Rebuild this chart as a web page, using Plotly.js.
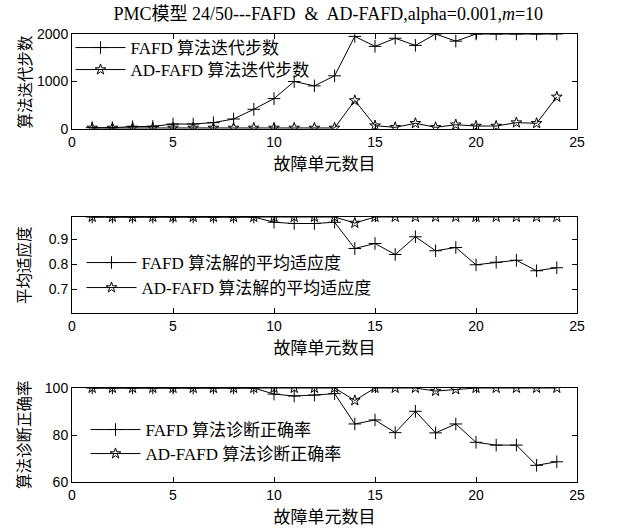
<!DOCTYPE html>
<html><head><meta charset="utf-8">
<script src="https://cdn.plot.ly/plotly-3.0.1.min.js"></script>
<style>html,body{margin:0;padding:0;background:#fff}</style>
</head><body><div id="chart" style="width:624px;height:529px"></div>
<script>
const faultUnits = [1,2,3,4,5,6,7,8,9,10,11,12,13,14,15,16,17,18,19,20,21,22,23,24];
const fafdIter = [28,28,50,55,105,105,134,211,415,640,1000,908,1120,1950,1740,1910,1760,2000,1850,2000,2000,2000,2000,2000];
const adIter = [22,22,22,22,22,22,22,22,22,22,22,22,22,600,70,35,120,35,90,63,63,134,120,676];
const fafdFit = [0.99,0.99,0.99,0.99,0.99,0.99,0.99,0.99,0.99,0.969,0.964,0.964,0.969,0.864,0.884,0.84,0.911,0.855,0.868,0.799,0.809,0.817,0.775,0.787];
const adFit = [0.99,0.99,0.99,0.99,0.99,0.99,0.99,0.99,0.99,0.99,0.99,0.99,0.99,0.966,0.99,0.99,0.99,0.99,0.99,0.99,0.99,0.99,0.99,0.99];
const fafdAcc = [100,100,100,100,100,100,100,100,100,97.4,96.6,97,97.6,84.7,86.4,81,90.1,80.9,84.7,76.9,75.7,75.7,67.1,68.6];
const adAcc = [100,100,100,100,100,100,100,100,100,100,100,100,100,94.7,100,100,100,98.7,99.4,100,100,100,100,100];

const legendNames = [
  ['FAFD 算法迭代步数', 'AD-FAFD 算法迭代步数'],
  ['FAFD 算法解的平均适应度', 'AD-FAFD 算法解的平均适应度'],
  ['FAFD 算法诊断正确率', 'AD-FAFD 算法诊断正确率']
];
const yTitles = ['算法迭代步数', '平均适应度', '算法诊断正确率'];
const xTitle = '故障单元数目';

const lineStyle = {color: '#000', width: 1};
const crossMarker = {symbol: 'cross-thin-open', size: 9, color: '#000', line: {color: '#000', width: 1}};
const starMarker = {symbol: 'star-open', size: 8, color: '#000', line: {color: '#000', width: 1}};

const series = [[fafdIter, adIter], [fafdFit, adFit], [fafdAcc, adAcc]];
const traces = [];
series.forEach((pair, i) => {
  const ax = i === 0 ? '' : String(i + 1);
  traces.push({x: faultUnits, y: pair[0], name: legendNames[i][0], mode: 'lines+markers',
    line: lineStyle, marker: crossMarker, xaxis: 'x' + ax, yaxis: 'y' + ax, legend: 'legend' + (2 * i + 1 === 1 ? '' : 2 * i + 1)});
  traces.push({x: faultUnits, y: pair[1], name: legendNames[i][1], mode: 'lines+markers',
    line: lineStyle, marker: starMarker, xaxis: 'x' + ax, yaxis: 'y' + ax, legend: 'legend' + (2 * i + 2)});
});

const H = 529;
const tickFont = {family: 'Liberation Sans, Arial, sans-serif', size: 14, color: '#000'};
const cjk = 'Liberation Serif, Noto Sans CJK SC, serif';
function xAxis(anchor) {
  return {anchor: anchor, domain: [0, 1], range: [0, 25], tickvals: [0,5,10,15,20,25],
    ticks: 'inside', ticklen: 5, tickcolor: '#000', showline: true, linecolor: '#000', linewidth: 1,
    mirror: 'ticks', showgrid: false, zeroline: false, tickfont: tickFont,
    title: {text: xTitle, font: {family: 'Noto Sans CJK SC, sans-serif', size: 17, color: '#000'}, standoff: 1}};
}
function yAxis(anchor, top, bottom, range, tv) {
  return {anchor: anchor, domain: [1 - bottom / H, 1 - top / H], range: range, tickvals: tv,
    ticks: 'inside', ticklen: 5, tickcolor: '#000', showline: true, linecolor: '#000', linewidth: 1,
    mirror: 'ticks', showgrid: false, zeroline: false, tickfont: tickFont};
}
const legendBase = {bgcolor: 'rgba(0,0,0,0)', borderwidth: 0, itemwidth: 50, tracegroupgap: 0,
  font: {family: cjk, size: 17, color: '#000'}, xref: 'paper', yref: 'paper', xanchor: 'left', yanchor: 'middle'};
// legend item centres (px from top) and line starts (px from left)
const legendRows = [[77, 48], [77, 70], [88, 263], [88, 288], [92, 430], [92, 454]];

const layout = {
  width: 624, height: 529, paper_bgcolor: '#fff', plot_bgcolor: '#fff',
  margin: {l: 72, r: 47, t: 0, b: 0},
  title: {text: 'PMC模型 24/50---FAFD  &  AD-FAFD,alpha=0.001,<i>m</i>=10',
    font: {family: 'Liberation Serif, Noto Sans CJK SC, serif', size: 18, color: '#000'},
    xref: 'container', x: 0.526, yref: 'container', y: 1 - 14 / H, yanchor: 'middle', xanchor: 'center'},
  xaxis: xAxis('y'), xaxis2: xAxis('y2'), xaxis3: xAxis('y3'),
  yaxis: yAxis('x', 34, 129, [0, 2000], [0, 1000, 2000]),
  yaxis2: yAxis('x2', 217, 313, [0.606, 0.99], [0.7, 0.8, 0.9]),
  yaxis3: yAxis('x3', 388, 482, [60, 100], [60, 80, 100]),
  showlegend: true,
  annotations: yTitles.map((t, i) => {
    const c = [81.5, 265, 435][i];
    return {text: t, textangle: -90, xref: 'paper', x: (23 - 72) / 505, xanchor: 'center',
      yref: 'paper', y: 1 - c / H, yanchor: 'middle', showarrow: false,
      font: {family: 'Noto Sans CJK SC, sans-serif', size: 15.5, color: '#000'}};
  })
};
legendRows.forEach((r, k) => {
  layout['legend' + (k === 0 ? '' : k + 1)] = Object.assign({}, legendBase,
    {x: (r[0] - 6.5 - 72) / 505, y: 1 - r[1] / H});
});
Plotly.newPlot('chart', traces, layout, {displayModeBar: false, staticPlot: true});
</script></body></html>
